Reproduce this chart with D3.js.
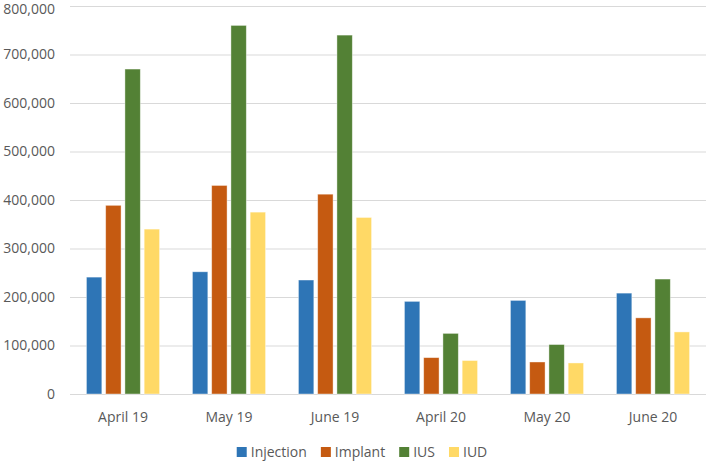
<!DOCTYPE html>
<html lang="en">
<head>
<meta charset="utf-8">
<title>Contraception by month</title>
<style>
  body { margin: 0; background: #fff; }
  svg text { font-family: "Open Sans", "Liberation Sans", sans-serif; fill: #595959; }
  .grid line { stroke: #d9d9d9; stroke-width: 1; }
  .grid .domain { stroke: none; }
</style>
</head>
<body>
<svg id="chart" width="709" height="462"></svg>
<script src="https://d3js.org/d3.v7.min.js"></script>
<script>
  // data
  const months = ["April 19", "May 19", "June 19", "April 20", "May 20", "June 20"];
  const methods = ["Injection", "Implant", "IUS", "IUD"];
  const injection = [241000, 252000, 235000, 191000, 193000, 208000];
  const implant = [389000, 430000, 412000, 75000, 66000, 157000];
  const ius = [670000, 760000, 740000, 125000, 102000, 237000];
  const iud = [340000, 375000, 364000, 69000, 64000, 128000];
  const yTicks = [0, 100000, 200000, 300000, 400000, 500000, 600000, 700000, 800000];
  const colors = ["#2e75b6", "#c55a11", "#538135", "#ffd966"];

  const series = [injection, implant, ius, iud];
  const rows = months.map((m, i) => ({ month: m, vals: methods.map((k, j) => ({ key: k, value: series[j][i] })) }));

  const margin = { top: 6, right: 3, bottom: 68, left: 70 };
  const width = 709, height = 462;

  const svg = d3.select("#chart");

  const x0 = d3.scaleBand().domain(months)
    .range([margin.left, width - margin.right])
    .paddingInner(0.31).paddingOuter(0.155);
  const x1 = d3.scaleBand().domain(methods)
    .range([0, x0.bandwidth()])
    .paddingInner(0.2);
  const y = d3.scaleLinear().domain([0, 800000])
    .range([height - margin.bottom, margin.top]);
  const color = d3.scaleOrdinal(methods, colors);

  // gridlines
  svg.append("g")
    .attr("class", "grid")
    .attr("transform", `translate(${margin.left},0)`)
    .call(d3.axisLeft(y).tickValues(yTicks).tickSize(-(width - margin.right - margin.left)).tickFormat(""));

  // y labels
  const yAxis = svg.append("g")
    .attr("transform", `translate(${margin.left - 15},0)`)
    .call(d3.axisLeft(y).tickValues(yTicks).tickSize(0).tickPadding(0).tickFormat(d3.format(",")));
  yAxis.select(".domain").remove();
  yAxis.selectAll("text").style("font-size", "14px").attr("fill", "#595959");
  // keep the top label inside the frame
  yAxis.selectAll("text").filter(d => d === 800000).attr("dy", "0.55em");

  // bars
  svg.append("g").selectAll("g").data(rows).join("g")
    .attr("transform", d => `translate(${x0(d.month)},0)`)
    .selectAll("rect").data(d => d.vals).join("rect")
    .attr("x", d => x1(d.key))
    .attr("y", d => y(d.value))
    .attr("width", x1.bandwidth())
    .attr("height", d => y(0) - y(d.value))
    .attr("fill", d => color(d.key))
    .attr("stroke", "#ffffff")
    .attr("stroke-opacity", 0.5)
    .attr("stroke-width", 0.8);

  // x labels
  const xAxis = svg.append("g")
    .attr("transform", `translate(0,${y(0)})`)
    .call(d3.axisBottom(x0).tickSize(0).tickPadding(18));
  xAxis.select(".domain").remove();
  xAxis.selectAll("text").style("font-size", "14px").attr("fill", "#595959");

  // legend
  const legend = svg.append("g");
  let cx = 0;
  const items = legend.selectAll("g").data(methods).join("g");
  items.append("rect")
    .attr("width", 10).attr("height", 10).attr("y", -5)
    .attr("fill", d => color(d));
  items.append("text")
    .attr("x", 14).attr("dy", "0.35em")
    .style("font-size", "14px")
    .text(d => d);
  items.each(function () {
    const w = this.getBBox().width;
    d3.select(this).attr("transform", `translate(${cx},0)`);
    cx += w + 14;
  });
  const total = cx - 14;
  legend.attr("transform", `translate(${362 - total / 2},452)`);
</script>
</body>
</html>
